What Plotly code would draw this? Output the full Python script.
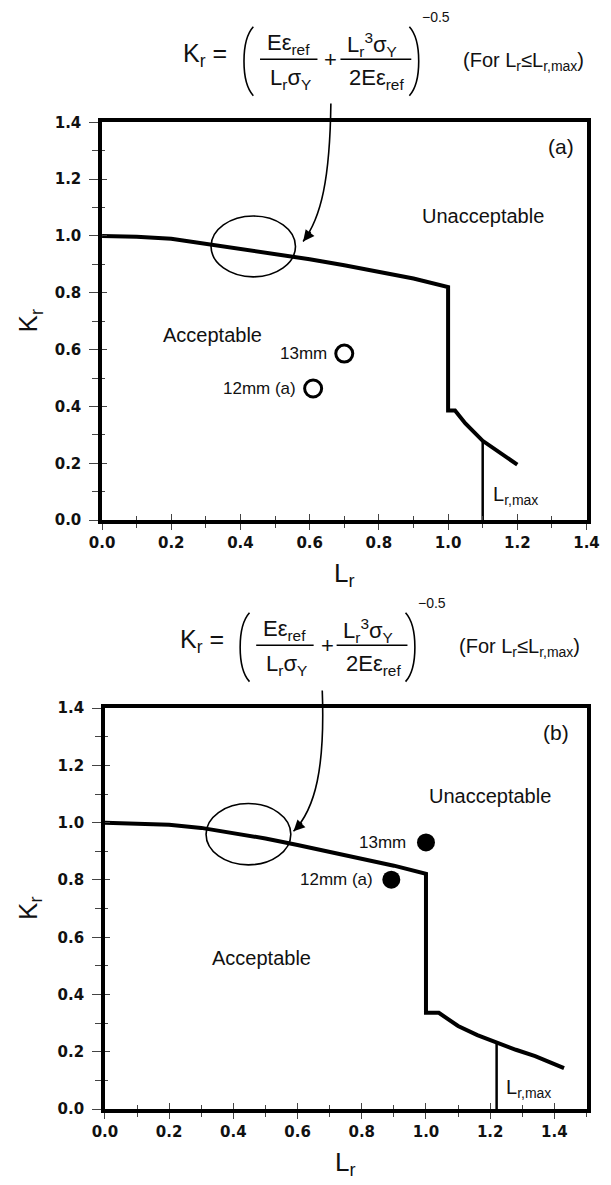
import plotly.graph_objects as go
import numpy as np

W, H = 611, 1185

# ---------------- data ----------------
# panel (a)
lr_a = [0.0, 0.1, 0.2, 0.3, 0.4, 0.5, 0.6, 0.7, 0.8, 0.9, 1.0, 1.0, 1.02, 1.05, 1.1, 1.15, 1.2]
kr_a = [1.0, 0.997, 0.99, 0.972, 0.955, 0.937, 0.918, 0.897, 0.874, 0.85, 0.82,
        0.386, 0.386, 0.34, 0.279, 0.235, 0.195]
lrmax_a = 1.10
pt_labels = ["13mm", "12mm (a)"]
pts_a_lr = [0.70, 0.61]
pts_a_kr = [0.586, 0.463]

# panel (b)
lr_b = [0.0, 0.1, 0.2, 0.3, 0.4, 0.5, 0.6, 0.7, 0.8, 0.9, 1.0, 1.0, 1.04, 1.1, 1.16, 1.22,
        1.28, 1.34, 1.43]
kr_b = [1.0, 0.998, 0.993, 0.982, 0.965, 0.945, 0.922, 0.898, 0.873, 0.85, 0.822,
        0.336, 0.336, 0.29, 0.258, 0.232, 0.207, 0.185, 0.143]
lrmax_b = 1.22
pts_b_lr = [1.0, 0.892]
pts_b_kr = [0.931, 0.801]

tick_vals = [0.0, 0.2, 0.4, 0.6, 0.8, 1.0, 1.2, 1.4]
tick_text = ["0.0", "0.2", "0.4", "0.6", "0.8", "1.0", "1.2", "1.4"]

FONT = "Liberation Sans, Arial, sans-serif"
TICKFONT = dict(family="DejaVu Sans", size=15, color="#111", weight="bold")

# ---------------- figure ----------------
fig = go.Figure()

def px(x):
    return x / W

def py(y):
    return 1 - y / H

panels = [
    dict(xa="x", ya="y", lr=lr_a, kr=kr_a, lrmax=lrmax_a, plr=pts_a_lr, pkr=pts_a_kr,
         filled=False, xdom=[93, 599], ydom=[115, 519], xrange=[0, 1.4],
         tag="(a)", tagxy=(1.325, 1.316), unacc=(1.10, 1.07), acc=(0.32, 0.65),
         lblx=[0.655, 0.566], lmlbl=(1.125, 0.086),
         ell=(0.437, 0.963, 0.122, 0.107), dy=0, dx=0,
         arrow=[(332, 96), (331, 172), (322, 212), (303, 236)]),
    dict(xa="x2", ya="y2", lr=lr_b, kr=kr_b, lrmax=lrmax_b, plr=pts_b_lr, pkr=pts_b_kr,
         filled=True, xdom=[96, 599], ydom=[710, 1117], xrange=[0, 1.5],
         tag="(b)", tagxy=(1.405, 1.316), unacc=(1.20, 1.095), acc=(0.487, 0.529),
         lblx=[0.945, 0.842], lmlbl=(1.243, 0.072),
         ell=(0.447, 0.96, 0.132, 0.107), dy=595, dx=-4,
         arrow=[(323, 692), (326, 770), (316, 812), (293, 835)]),
]

annotations = []
shapes = []

for i, p in enumerate(panels):
    xa, ya = p["xa"], p["ya"]
    # limit curve
    fig.add_trace(go.Scatter(x=p["lr"], y=p["kr"], mode="lines", xaxis=xa, yaxis=ya,
                             line=dict(color="black", width=4), showlegend=False,
                             hoverinfo="skip"))
    # Lr,max line
    top = float(np.interp(p["lrmax"], p["lr"][12:], p["kr"][12:]))
    fig.add_trace(go.Scatter(x=[p["lrmax"], p["lrmax"]], y=[0, top], mode="lines",
                             xaxis=xa, yaxis=ya, line=dict(color="black", width=2.5),
                             showlegend=False, hoverinfo="skip"))
    # points
    if p["filled"]:
        mk = dict(symbol="circle", size=18, color="black")
    else:
        mk = dict(symbol="circle-open", size=17, color="black", line=dict(width=3, color="black"))
    fig.add_trace(go.Scatter(x=p["plr"], y=p["pkr"], mode="markers", xaxis=xa, yaxis=ya,
                             marker=mk, showlegend=False, hoverinfo="skip"))
    # point labels
    for lab, lx, ly in zip(pt_labels, p["lblx"], p["pkr"]):
        annotations.append(dict(x=lx, y=ly, xref=xa, yref=ya, text=lab, showarrow=False,
                                xanchor="right", yanchor="middle",
                                font=dict(family=FONT, size=17, color="#111")))
    # region labels
    annotations.append(dict(x=p["unacc"][0], y=p["unacc"][1], xref=xa, yref=ya,
                            text="Unacceptable", showarrow=False,
                            xanchor="center", yanchor="middle",
                            font=dict(family=FONT, size=20, color="#111")))
    annotations.append(dict(x=p["acc"][0], y=p["acc"][1], xref=xa, yref=ya,
                            text="Acceptable", showarrow=False,
                            xanchor="center", yanchor="middle",
                            font=dict(family=FONT, size=20, color="#111")))
    annotations.append(dict(x=p["tagxy"][0], y=p["tagxy"][1], xref=xa, yref=ya,
                            text=p["tag"], showarrow=False,
                            xanchor="center", yanchor="middle",
                            font=dict(family=FONT, size=21, color="#111")))
    annotations.append(dict(x=p["lmlbl"][0], y=p["lmlbl"][1], xref=xa, yref=ya,
                            text="L<sub>r,max</sub>", showarrow=False, xanchor="left",
                            yanchor="middle", font=dict(family=FONT, size=20, color="#111")))
    # ellipse
    cx, cy, rx, ry = p["ell"]
    shapes.append(dict(type="circle", xref=xa, yref=ya, x0=cx - rx, x1=cx + rx,
                       y0=cy - ry, y1=cy + ry, line=dict(color="black", width=1.6)))
    # axis titles
    xmid = (p["xdom"][0] + p["xdom"][1]) / 2
    ymid = (p["ydom"][0] + p["ydom"][1]) / 2
    annotations.append(dict(x=px(17), y=py(ymid), xref="paper", yref="paper",
                            text="K<sub>r</sub>", textangle=-90, showarrow=False,
                            xanchor="center", yanchor="middle",
                            font=dict(family=FONT, size=26, color="#111")))
    annotations.append(dict(x=px(xmid), y=py(p["ydom"][1] + 55), xref="paper", yref="paper",
                            text="L<sub>r</sub>", showarrow=False,
                            xanchor="center", yanchor="middle",
                            font=dict(family=FONT, size=26, color="#111")))

    # ---- formula ----
    dy = p["dy"]
    dx = p["dx"]

    def T(x, y, text, size, xanchor="center"):
        annotations.append(dict(x=px(x + dx), y=py(y + dy), xref="paper", yref="paper",
                                text=text, showarrow=False, xanchor=xanchor,
                                yanchor="middle",
                                font=dict(family=FONT, size=size, color="#111")))

    T(226, 47, "K<sub>r</sub> =", 25, xanchor="right")
    T(288, 36, "Eε<sub>ref</sub>", 22)
    T(290, 71, "L<sub>r</sub>σ<sub>Y</sub>", 22)
    T(332, 51, "+", 22)
    T(375, 36, "L<sub>r</sub><sup>3</sup>σ<sub>Y</sub>", 22)
    T(380, 71, "2Eε<sub>ref</sub>", 22)
    T(442, 8, "−0.5", 14)
    T(533, 53, "(For L<sub>r</sub>≤L<sub>r,max</sub>)", 20)
    for (x0, x1) in [(258, 318), (342, 416)]:
        shapes.append(dict(type="line", xref="paper", yref="paper",
                           x0=px(x0 + dx), x1=px(x1 + dx), y0=py(51 + dy), y1=py(51 + dy),
                           line=dict(color="black", width=1.5)))
    # parentheses
    lp = "M {},{} C {},{} {},{} {},{}".format(px(251 + dx), py(18 + dy), px(238 + dx), py(32 + dy),
                                              px(238 + dx), py(74 + dy), px(251 + dx), py(88 + dy))
    rp = "M {},{} C {},{} {},{} {},{}".format(px(414 + dx), py(18 + dy), px(427 + dx), py(32 + dy),
                                              px(427 + dx), py(74 + dy), px(414 + dx), py(88 + dy))
    for pth in (lp, rp):
        shapes.append(dict(type="path", xref="paper", yref="paper", path=pth,
                           line=dict(color="black", width=1.6)))
    # curved arrow
    a = p["arrow"]
    pth = "M {},{} C {},{} {},{} {},{}".format(
        px(a[0][0]), py(a[0][1]), px(a[1][0]), py(a[1][1]),
        px(a[2][0]), py(a[2][1]), px(a[3][0]), py(a[3][1]))
    shapes.append(dict(type="path", xref="paper", yref="paper", path=pth,
                       line=dict(color="black", width=1.6)))
    dxv = a[3][0] - a[2][0]
    dyv = a[3][1] - a[2][1]
    n = (dxv ** 2 + dyv ** 2) ** 0.5
    annotations.append(dict(x=px(a[3][0]), y=py(a[3][1]), xref="paper", yref="paper",
                            ax=-dxv / n * 14, ay=-dyv / n * 14, text="", showarrow=True,
                            arrowhead=2, arrowsize=1.4, arrowwidth=1.6,
                            arrowcolor="black", standoff=0))

def xaxis_cfg(p, inside=False):
    d = dict(domain=[px(p["xdom"][0]), px(p["xdom"][1])], range=p["xrange"],
             showgrid=False, zeroline=False, fixedrange=True)
    if inside:
        d.update(ticks="inside", ticklen=6, tickwidth=1.4, showticklabels=False,
                 tickvals=tick_vals, showline=False,
                 minor=dict(ticks="inside", ticklen=4, tickwidth=1.2, dtick=0.1, tick0=0))
    else:
        d.update(ticks="outside", ticklen=6, tickwidth=1.4, tickvals=tick_vals,
                 ticktext=tick_text, tickfont=TICKFONT, showline=True, linewidth=3.5,
                 linecolor="black", mirror=True, ticklabeloverflow="allow",
                 minor=dict(ticks="outside", ticklen=4, tickwidth=1.2, dtick=0.1, tick0=0))
    return d

def yaxis_cfg(p, inside=False):
    d = dict(domain=[py(p["ydom"][1]), py(p["ydom"][0])], range=[0, 1.4],
             showgrid=False, zeroline=False, fixedrange=True)
    if inside:
        d.update(ticks="inside", ticklen=5, tickwidth=1.4, showticklabels=False,
                 tickvals=tick_vals, showline=False,
                 minor=dict(ticks="inside", ticklen=3, tickwidth=1.2, dtick=0.1, tick0=0))
    else:
        d.update(ticks="outside", ticklen=9, tickwidth=1.4, tickvals=tick_vals,
                 ticktext=tick_text, tickfont=TICKFONT, showline=True, linewidth=3.5,
                 linecolor="black", mirror=True, ticklabelstandoff=5,
                 ticklabeloverflow="allow",
                 minor=dict(ticks="outside", ticklen=6, tickwidth=1.2, dtick=0.1, tick0=0))
    return d

pa, pb = panels
xa1 = xaxis_cfg(pa); xa1["anchor"] = "y"
ya1 = yaxis_cfg(pa); ya1["anchor"] = "x"
xa2 = xaxis_cfg(pb); xa2["anchor"] = "y2"
ya2 = yaxis_cfg(pb); ya2["anchor"] = "x2"
xa3 = xaxis_cfg(pa, True); xa3.update(anchor="y", overlaying="x", matches="x")
ya3 = yaxis_cfg(pa, True); ya3.update(anchor="x", overlaying="y", matches="y")
xa4 = xaxis_cfg(pb, True); xa4.update(anchor="y2", overlaying="x2", matches="x2")
ya4 = yaxis_cfg(pb, True); ya4.update(anchor="x2", overlaying="y2", matches="y2")

# invisible traces to activate overlay axes
fig.add_trace(go.Scatter(x=[0], y=[0], xaxis="x3", yaxis="y3", mode="markers",
                         marker=dict(opacity=0), showlegend=False, hoverinfo="skip"))
fig.add_trace(go.Scatter(x=[0], y=[0], xaxis="x4", yaxis="y4", mode="markers",
                         marker=dict(opacity=0), showlegend=False, hoverinfo="skip"))

fig.update_layout(
    width=W, height=H, margin=dict(l=0, r=0, t=0, b=0),
    paper_bgcolor="white", plot_bgcolor="white",
    xaxis=xa1, yaxis=ya1, xaxis2=xa2, yaxis2=ya2,
    xaxis3=xa3, yaxis3=ya3, xaxis4=xa4, yaxis4=ya4,
    annotations=annotations, shapes=shapes, showlegend=False,
)

fig.write_html("out.html")
